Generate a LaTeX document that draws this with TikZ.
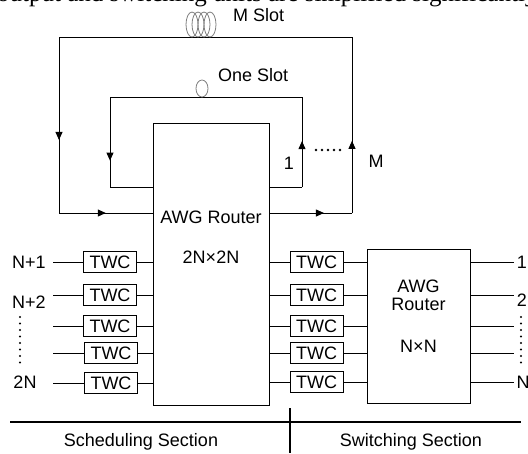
\documentclass[tikz,border=0pt]{standalone}
\usepackage{fontspec}
\setmainfont{Liberation Sans}
\newfontfamily\capfont{Liberation Serif}
\usetikzlibrary{arrows.meta,decorations.markings}

\tikzset{
  wire/.style={line width=0.9pt},
  router/.style={draw,line width=0.9pt,inner sep=0pt},
  twc/.style={draw,line width=0.9pt,minimum width=53pt,minimum height=21pt,inner sep=0pt},
  coil/.style={draw=gray,line width=0.8pt},
  flowarrow/.style={postaction={decorate,decoration={markings,
      mark=at position #1 with {\arrow{Triangle[length=8pt,width=7pt]}}}}},
}

\begin{document}
\begin{tikzpicture}[x=1pt,y=-1pt,font=\fontsize{18}{20}\selectfont]
  \useasboundingbox (0,0) rectangle (528,453);
  % caption line of the page, cut by the top edge
  \node[font=\capfont\fontsize{25}{28}\selectfont,anchor=base west,inner sep=0pt] (cap) at (-3,1.5)
    {output and switching units are simplified significantly};

  % routers
  \node[router,minimum width=116pt,minimum height=282pt] (awg) at (211,264) {};
  \node (awgt) at (211,217) {AWG Router};
  \node (awgn) at (211,257) {2N×2N};
  \node[router,minimum width=103pt,minimum height=154pt] (awgs) at (418.5,326) {};
  \node[align=center] (awgst) at (418.5,295) {AWG\\[-2pt]Router};
  \node (awgsn) at (418.5,346) {N×N};

  % delay loops
  \coordinate (or1) at (352,213);
  \coordinate (or2) at (352,37);
  \coordinate (ol2) at (59,37);
  \coordinate (ol1) at (59,213);
  \coordinate (ir1) at (302,187);
  \coordinate (ir2) at (302,97);
  \coordinate (il2) at (110,97);
  \coordinate (il1) at (110,187);
  \draw[wire,flowarrow=0.66] (awg.east |- or1) -- (or1);
  \draw[wire,flowarrow=0.41] (or1) -- (or2);
  \draw[wire] (or2) -- (ol2);
  \draw[wire,flowarrow=0.585] (ol2) -- (ol1);
  \draw[wire,flowarrow=0.5] (ol1) -- (awg.west |- ol1);
  \draw[wire] (awg.east |- ir1) -- (ir1);
  \draw[wire,flowarrow=0.51] (ir1) -- (ir2);
  \draw[wire] (ir2) -- (il2);
  \draw[wire,flowarrow=0.48] (il2) -- (il1) -- (awg.west |- il1);

  % fibre coils
  \foreach \x in {192,198,204,210}
    \draw[coil] (\x,24.5) ellipse [x radius=6pt,y radius=12.5pt];
  \draw[coil] (202,88.5) ellipse [x radius=6pt,y radius=8.5pt];
  \node[anchor=west,inner sep=0pt] (mslot) at (233,15) {M Slot};
  \node[anchor=west,inner sep=0pt] (oneslot) at (218,75) {One Slot};
  \node (one) at (289,163) {1};
  \node (em) at (376,161) {M};
  \foreach \x in {316,322,328,334,340}
    \fill (\x,150) circle (1.3pt);

  % inputs
  \foreach \i/\y/\x in {1/262/110,2/295/110,3/326/110,4/353/111,5/383/111} {
    \node[twc] (tl\i) at (\x,\y) {TWC};
    \coordinate (in\i) at (53,\y);
    \draw[wire] (in\i) -- (tl\i) (tl\i) -- (tl\i -| awg.west);
  }
  \node (nA) at (29,262) {N+1};
  \node (nB) at (29,302) {N+2};
  \node (nC) at (25,382) {2N};
  \foreach \y in {317,323.5,330,336.5,343,349.5,356,362.5}
    \fill (20,\y) circle (1.2pt);

  % switching part
  \foreach \i/\y in {1/262,2/295,3/326,4/353,5/382} {
    \node[twc] (tr\i) at (316.5,\y) {TWC};
    \coordinate (out\i) at (514,\y);
    \draw[wire] (awg.east |- tr\i) -- (tr\i) (tr\i) -- (tr\i -| awgs.west);
    \draw[wire] (awgs.east |- out\i) -- (out\i);
  }
  \node (oA) at (522,262) {1};
  \node (oB) at (522,300) {2};
  \node (oC) at (523,382) {N};
  \foreach \y in {317,323.5,330,336.5,343,349.5,356,362.5}
    \fill (521,\y) circle (1.2pt);

  % sections
  \coordinate (sl) at (10,422);
  \coordinate (sr) at (521,422);
  \coordinate (st) at (290,408);
  \coordinate (sb) at (290,453);
  \draw[line width=1.4pt] (sl) -- (sr);
  \draw[line width=1.4pt] (st) -- (sb);
  \node (sched) at (141,442) {Scheduling Section};
  \node (swit) at (411,442) {Switching Section};
\end{tikzpicture}
\end{document}
